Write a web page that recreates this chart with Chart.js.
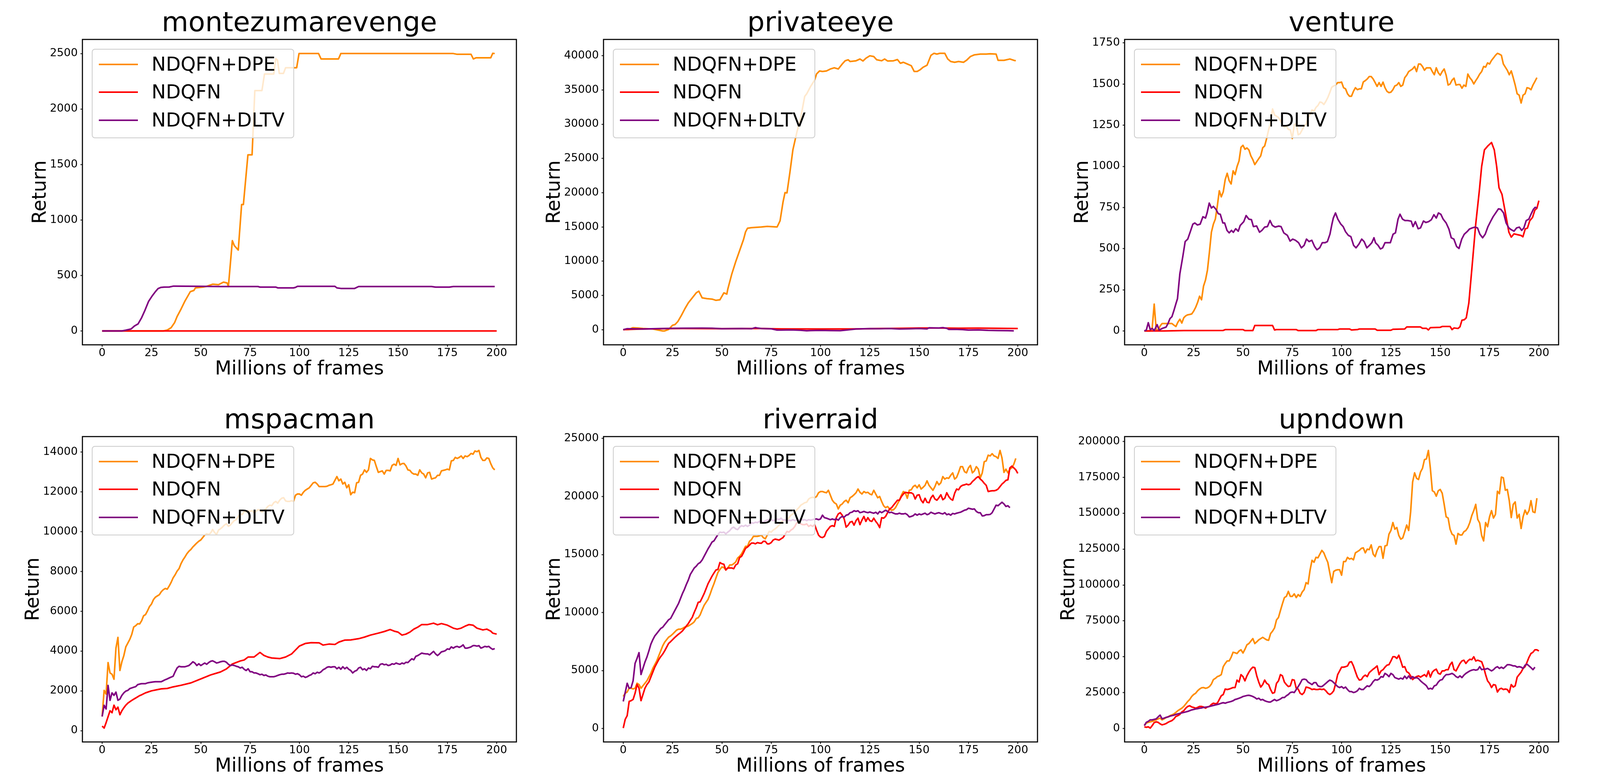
<!DOCTYPE html>
<html><head><meta charset="utf-8">
<script src="https://cdn.jsdelivr.net/npm/chart.js@4.4.1/dist/chart.umd.min.js"></script>
<style>
html,body{margin:0;padding:0;background:#fff;}
#fig{position:relative;width:4200px;height:2000px;background:#fff;overflow:hidden;font-family:'DejaVu Sans';}
#fig canvas{position:absolute;}
.legend{position:absolute;box-sizing:border-box;width:518px;height:229px;background:rgba(255,255,255,0.8);border:2px solid #cccccc;border-radius:8px;}
.legend .sw{position:absolute;left:16px;width:100px;height:4px;}
.legend .lb{position:absolute;left:151px;height:60px;line-height:60px;font-size:49px;color:#000;white-space:nowrap;font-family:'DejaVu Sans';}
</style></head>
<body><div id="fig"></div>
<script>
// ---------------- DATA ----------------
const gameTitles = ["montezumarevenge","privateeye","venture","mspacman","riverraid","upndown"];
const seriesLabels = ["NDQFN+DPE","NDQFN","NDQFN+DLTV"];
const xAxisTitle = "Millions of frames";
const yAxisTitle = "Return";
const xTickStep = 25;
const yTickSteps = [500, 5000, 250, 2000, 5000, 25000];

// [x, y] pairs (sparse) or plain y lists (one value per million frames, x = index)
const montezumaDPE = [[0,0],[31,0],[33,8],[35,30],[36.7,74],[38,130],[40,197],[42,270],[44.7,354],[46.5,365],[47.3,388],[51,395],[52.6,400],[56,421],[59,417],[61.5,440],[63.3,433],[64,400],[66,814],[67,769],[69,729],[70.7,1139],[71.6,1139],[73.9,1587],[76,1587],[77.4,2166],[81,2166],[82.3,2316],[87,2316],[88,2455],[88.9,2440],[89.8,2321],[91.9,2321],[93,2372],[98.6,2372],[99.8,2500],[109.7,2500],[111,2451],[119.8,2451],[121,2500],[178,2500],[180,2493],[187,2493],[188.2,2451],[189.6,2462],[197,2462],[198,2502],[199,2500]];
const montezumaNDQFN = [[0,0],[200,0]];
const montezumaDLTV = [[0,0],[10,0],[12,7],[14.7,18],[16.4,45],[18.2,63],[20,119],[21.7,186],[23.5,265],[25.3,314],[27,354],[28.3,381],[29.7,392],[31.4,395],[34,396],[36.2,404],[50,402],[60,400],[79,400],[80,395],[88,395],[89,388],[97,388],[98,392],[99,402],[118,402],[119,388],[121,383],[128,383],[130,400],[167,400],[169,395],[176,395],[178,400],[199,400]];

const privateeyeDPE = [[0,0],[3,50],[4.8,290],[7.4,250],[10,180],[15,100],[18,-70],[20,-180],[21,-180],[23,36],[25,650],[26.3,760],[27.7,1200],[29.5,2100],[31.3,3090],[33,3920],[35,4650],[37,5380],[38.3,5630],[40,4650],[42.4,4540],[45,4470],[47,4290],[49,4360],[51,5380],[52.5,5200],[53,5920],[55,8100],[57,9920],[59,11550],[61,13190],[62,14280],[63,14820],[65,14900],[70,15000],[73,15080],[78,15000],[79.5,15910],[81,18640],[82,20020],[83,19980],[84.5,23000],[86,26270],[88,28810],[90,31000],[92,34080],[93,34440],[95,35530],[97,36440],[98,37350],[99.5,37780],[101,37710],[103,37780],[105,38070],[107,38250],[109,38070],[111,38800],[112.5,39270],[114,39420],[115,39160],[118,39270],[120,39530],[121.5,39240],[123,39640],[125,40000],[127,39890],[128.5,39420],[131,39270],[132.5,39530],[134,39240],[137,39270],[139,39450],[140.5,38910],[142,39050],[144,38800],[146,38550],[147.5,37710],[149,37710],[150.5,37960],[152,38320],[154,38620],[156,40070],[157.5,40360],[159,40250],[160.5,40360],[163,40360],[164.5,39530],[166,39160],[168,39050],[170,39160],[172.5,39050],[174,39340],[176,39890],[178,40140],[181,40250],[184,40250],[186,40290],[189,40250],[190,39340],[193,39340],[196,39530],[198,39340],[199,39270]];
const privateeyeNDQFN = [[0,0],[5,60],[10,100],[20,150],[30,170],[50,150],[70,170],[80,120],[100,100],[120,120],[130,170],[140,200],[150,250],[160,250],[170,220],[180,230],[190,200],[200,170]];
const privateeyeDLTV = [[0,0],[2,150],[10,100],[20,180],[25,200],[30,210],[40,230],[45,220],[50,150],[60,170],[65,140],[67,300],[68,250],[70,180],[75,130],[78,-50],[80,-60],[85,-30],[90,-90],[93,-150],[95,-120],[100,-100],[105,-120],[110,-140],[113,-60],[118,100],[125,160],[130,150],[135,170],[140,100],[145,130],[150,180],[154,120],[155,280],[160,250],[162,300],[164,200],[165,50],[168,60],[172,20],[175,-60],[180,-30],[185,-100],[190,-120],[195,-140],[198,-170]];

const ventureDPE = [0,0,0,0,20,163,10,3,30,45,45,45,45,45,45,35,27,53,71,48,80,92,98,100,103,120,143,173,211,189,272,309,370,480,600,649,680,760,852,815,845,920,958,913,893,973,950,999,1033,1116,1128,1104,1112,1100,1064,1041,1011,1029,1047,1064,1113,1124,1169,1222,1267,1349,1312,1305,1297,1278,1252,1237,1245,1225,1222,1169,1252,1260,1192,1199,1222,1245,1255,1297,1315,1343,1335,1358,1370,1391,1388,1376,1395,1418,1448,1481,1489,1494,1509,1509,1512,1478,1471,1441,1426,1426,1456,1478,1466,1471,1471,1513,1521,1531,1546,1546,1531,1509,1486,1509,1486,1512,1478,1456,1448,1451,1466,1489,1494,1509,1486,1494,1539,1554,1576,1584,1592,1607,1576,1622,1622,1607,1584,1599,1599,1599,1576,1557,1599,1569,1554,1576,1592,1554,1494,1501,1524,1536,1494,1497,1497,1475,1494,1486,1561,1539,1524,1501,1521,1539,1561,1576,1607,1603,1629,1622,1644,1659,1675,1687,1682,1675,1622,1603,1584,1557,1580,1539,1494,1441,1433,1385,1433,1441,1478,1475,1466,1494,1516,1539];
const ventureNDQFN = [[0,0],[10,0],[20,2],[40,3],[41,8],[50,8],[51,2],[55,2],[56,33],[65,33],[66,6],[67,8],[77,8],[78,2],[87,2],[88,8],[98,8],[99,12],[104,12],[105,6],[108,8],[109,12],[117,12],[118,4],[125,4],[126,10],[132,12],[133,24],[140,24],[141,16],[143,16],[144,6],[145,20],[150,22],[151,27],[155,27],[156,8],[157,18],[159,15],[160,25],[161,65],[162.2,68],[163.2,80],[164.5,170],[166.2,400],[168,650],[169.8,850],[171,1000],[172.4,1100],[174.2,1125],[176,1145],[177.4,1100],[178.6,1000],[179.8,870],[181.3,830],[183,720],[184.8,600],[186,570],[187.4,590],[189.2,585],[191,580],[191.9,572],[193.1,620],[194.2,625],[195.4,670],[196.8,690],[198,735],[199,745],[200,792]];
const ventureDLTV = [[0,0],[1,5],[2,50],[3,8],[4,15],[5,2],[6.5,38],[7.5,5],[9,15],[11,23],[12,45],[13,75],[14,87],[15,124],[16,165],[16.8,196],[18,347],[19.5,452],[20.7,543],[22,558],[23.3,603],[24.6,649],[25.6,656],[26.9,644],[28.3,649],[29.7,694],[31,686],[31.8,717],[32.9,777],[34,747],[35,757],[36.3,739],[37.5,712],[38.5,709],[39.8,656],[40.7,656],[41.9,611],[43,596],[44.2,611],[45.1,599],[46.3,621],[47.6,606],[48.6,641],[50.4,664],[51.6,701],[53,679],[54.3,676],[55.3,634],[56.9,638],[58.4,600],[59.6,611],[61,631],[62.4,634],[63.7,671],[64.9,641],[66.3,631],[68.1,637],[69.3,634],[70.7,596],[72.5,581],[73.9,546],[75.2,558],[76.6,551],[78.2,536],[79.6,505],[81,520],[82.2,558],[83.5,543],[84.9,551],[86.3,513],[87.5,493],[88.9,505],[90.2,536],[91.6,536],[92.8,543],[94.1,588],[95.1,649],[95.8,686],[96.9,717],[98.1,679],[99.6,649],[100.8,634],[102,603],[103.4,581],[104.7,573],[106.1,520],[107.3,505],[108.8,528],[110.2,558],[111.4,543],[112.8,505],[114.1,520],[115.3,536],[116.4,566],[117.2,536],[118.5,520],[119.7,498],[120.8,505],[122,536],[123.4,536],[124.7,536],[126.1,588],[127.3,596],[128.6,679],[129.6,709],[130.9,679],[132.1,671],[133.5,671],[135.3,667],[136.2,634],[137.4,664],[138.8,621],[140,626],[141.5,668],[142.7,659],[144.1,664],[145.5,676],[146.8,706],[148,686],[149.1,717],[150.3,709],[151.5,679],[153,656],[154.4,619],[155.6,566],[156.9,558],[158.3,513],[159.5,501],[160.9,558],[162.2,588],[163.6,603],[164.8,619],[166.2,626],[167.6,631],[168.9,626],[170.1,588],[171.5,566],[172.8,588],[174.2,634],[175.6,667],[176.8,694],[178.1,717],[179.5,742],[180.7,739],[182.1,717],[183.4,656],[184.8,626],[186,615],[187.4,606],[188.7,626],[190.1,631],[191.3,611],[192.4,626],[193.6,671],[194.9,679],[195.9,706],[197.2,739],[198.1,751],[199,747]];

const mspacmanDPE = [712,2023,1836,3422,2898,2835,2585,4147,4684,3023,3460,3772,4209,4396,4584,4834,5208,5271,5371,5360,5520,5770,5833,6020,6233,6357,6582,6707,6770,6832,6982,7082,7144,7107,7269,7457,7681,7831,8018,8143,8393,8581,8731,8893,9018,9105,9230,9330,9430,9517,9580,9705,9830,9892,9855,9930,10104,9955,9855,10080,10142,10229,10329,10392,10267,10329,10454,10554,10604,10766,10891,10854,11016,10979,11053,11016,11053,10954,11016,11104,11079,10979,11079,11141,11266,11329,11303,11453,11516,11428,11578,11678,11703,11541,11516,11516,11553,11516,11828,11890,11890,11828,11978,12078,12140,12203,12328,12452,12478,12390,12265,12265,12265,12265,12278,12328,12353,12390,12577,12765,12552,12640,12390,12478,12203,12353,11853,11978,11953,12453,12478,12827,12890,13102,12977,13102,13677,13602,13577,13264,12977,13015,13052,12890,13077,13077,13052,13327,13389,13327,13677,13352,13414,13427,13302,13102,13077,12952,12890,12890,12827,13102,12952,12890,12702,12952,12977,12640,12677,12702,12827,12827,13052,13077,13102,13140,13102,13552,13577,13727,13677,13727,13802,13677,13802,13764,13827,13927,13889,14052,14014,14077,13727,13577,13577,13702,13677,13414,13202,13102];
const mspacmanNDQFN = [[0,230],[1,130],[2,400],[3,700],[4,1000],[5,900],[6,1280],[7,1050],[8,1180],[9,800],[10,1000],[11,1150],[12,1280],[13,1380],[14,1450],[15,1520],[16,1580],[17,1640],[18,1700],[19,1760],[20,1800],[22,1900],[25,2000],[28,2060],[30,2100],[33,2120],[36,2200],[40,2280],[45,2400],[50,2600],[55,2800],[60,2950],[63,3100],[66,3350],[70,3500],[72,3550],[74,3700],[77,3700],[80,3930],[82,3780],[84,3700],[86,3650],[90,3620],[93,3700],[96,3850],[98,4050],[100,4250],[103,4380],[106,4420],[110,4410],[112,4300],[115,4350],[118,4330],[120,4450],[123,4550],[126,4560],[130,4620],[133,4700],[136,4800],[138,4850],[140,4900],[143,4980],[146,5080],[148,5000],[150,4950],[152,4800],[154,4850],[156,4950],[158,5100],[160,5200],[162,5330],[165,5330],[168,5400],[170,5320],[172,5380],[175,5300],[178,5150],[180,5100],[182,5150],[184,5250],[186,5330],[188,5300],[190,5150],[193,5060],[195,5100],[197,5000],[198,4900],[200,4850]];
const mspacmanDLTV = [712,1274,1087,2273,1524,1898,1774,1936,1524,1586,1774,1898,1986,2023,2111,2148,2180,2211,2311,2340,2361,2361,2361,2400,2420,2436,2450,2461,2461,2461,2461,2510,2561,2600,2648,2690,2735,2960,3148,3235,3210,3210,3210,3240,3273,3360,3460,3397,3273,3360,3273,3335,3397,3335,3422,3485,3510,3460,3397,3422,3460,3485,3485,3435,3335,3273,3298,3273,3235,3210,3148,3185,3085,3023,3110,2960,2960,2898,2898,2860,2810,2835,2773,2798,2735,2710,2710,2710,2735,2773,2810,2835,2835,2860,2898,2885,2898,2885,2835,2860,2810,2710,2735,2673,2710,2773,2810,2898,2860,2935,2898,2960,3060,3110,3185,3210,3185,3210,3210,3110,3185,3085,3210,3110,3185,3085,3023,2898,2985,3023,3148,3185,3060,3110,3023,3148,3110,3235,3210,3210,3185,3335,3360,3310,3335,3273,3298,3360,3335,3397,3360,3335,3397,3360,3435,3422,3522,3610,3560,3735,3772,3834,3897,3872,3859,3859,3809,3897,3984,3859,3772,3859,3959,3984,4022,4109,4084,4209,4147,4209,4234,4184,4234,4309,4147,4147,4172,4209,4272,4272,4247,4272,4147,4184,4234,4209,4234,4147,4084,4122];

const riverraidDPE = [2768,3047,3155,3477,3477,3412,3477,3906,3798,3477,3691,3906,4120,4442,4764,5193,5515,5837,6266,6696,7125,7447,7661,7876,7983,8133,8305,8477,8563,8563,8627,8734,8777,8842,8949,9056,9206,9485,9550,9807,10236,10623,10880,11138,11567,12060,12490,12983,13455,13713,13927,13884,13670,13842,14099,14099,14207,14357,14700,14850,15065,15387,15709,15709,16138,16288,16567,16567,16567,16610,16674,16460,16352,16674,16996,16932,17104,17211,17361,17533,17747,17962,17962,17919,18177,18391,18498,18606,18863,19035,19250,19357,19464,19507,19786,19893,19936,19893,20001,20323,20430,20430,20365,20323,20537,20108,19679,19464,19357,18928,19250,19357,19571,19679,19464,19893,20001,20151,20323,20645,20365,20215,20430,20323,20365,20215,20151,20537,20215,19893,20001,19571,19207,19035,19142,18928,18820,18863,19035,19357,19679,20108,20430,20323,19850,20537,20580,20859,20966,20752,21009,20645,20795,20966,21352,20966,20752,20537,20859,21288,21009,21181,21717,21503,21610,21567,21825,22039,21503,21653,22082,22576,22576,22147,22039,22468,22683,22039,22211,22576,22361,21610,22039,23004,23069,23563,23498,23692,23498,23434,23284,23970,23327,22082,22361,22039,22361,22468,22790,23284];
const riverraidNDQFN = [43,794,1116,2339,2404,2511,3047,3798,3477,2404,2940,3477,3798,4013,4442,4871,5300,5623,5944,6202,6417,6696,7017,7339,7490,7661,7833,7983,8133,8262,8412,8627,8842,9056,9335,9592,10022,10408,10880,10923,11267,11631,12060,12490,12811,13133,13412,13670,13713,14314,14207,14164,13670,13842,13842,13842,13777,14099,14207,14743,14850,15172,15537,15644,15816,15988,15988,15923,16030,15988,15966,16138,16138,15923,15923,16030,16245,16331,16288,16245,16352,16460,16717,16996,16932,17104,17211,17425,17747,17790,17640,17575,17575,17640,17425,17532,17425,17575,17104,16674,16503,16460,16567,16996,17211,17425,17490,17425,18177,18498,18606,18391,18069,17361,17533,17790,17854,17533,17919,18134,17575,17962,18284,17854,18177,17919,17854,18134,17854,17640,17318,18177,18134,18284,18606,18928,19035,19250,19464,19679,19679,20001,20215,20365,20323,20323,20323,20215,19786,20108,20151,19679,19464,19850,19507,19464,19893,20108,19786,19679,19893,20151,19722,19850,20323,20001,19786,19679,20280,20645,20580,20859,20966,21009,21073,21009,21073,21288,21438,21610,21717,21503,21352,21138,20966,20430,20473,20494,20494,20537,20645,20859,21073,21224,21395,21438,22468,22619,22468,22297,21996];
const riverraidDLTV = [2339,3112,3906,3477,3541,4120,5623,6052,6545,4657,5193,5730,6159,6696,7275,7661,7983,8198,8412,8627,8734,8949,9163,9378,9485,9807,10129,10451,10773,11202,11631,11996,12425,12811,13284,13563,13842,13992,14207,14314,14528,14850,15172,15494,15773,16073,16181,16460,16717,16932,16889,16932,16782,16932,17061,17275,17361,17211,17147,17361,17490,17425,17532,17425,17532,17747,17704,17790,17747,17854,17854,17747,17919,17962,18005,18005,17919,17962,18069,18005,18134,17962,18005,17854,17962,17919,18005,17919,18005,17962,18069,17962,18005,17919,18005,17962,18005,18048,18069,18005,18069,18391,18177,18134,18069,18005,18069,18005,18069,17962,18177,18284,18220,18391,18434,18606,18648,18777,18713,18777,18606,18648,18713,18648,18606,18670,18606,18563,18648,18499,18713,18606,18713,18820,18713,18606,18648,18563,18499,18499,18563,18499,18499,18541,18434,18241,18284,18348,18499,18391,18499,18434,18499,18563,18434,18499,18648,18563,18499,18563,18606,18541,18499,18606,18434,18499,18391,18541,18499,18563,18606,18648,18734,18820,18863,18992,18949,18906,18928,18713,18606,18606,18327,18348,18434,18434,18456,18606,18928,19250,19207,19357,19507,19357,19142,19207,19035];

const upndownDPE = [2077,3808,4328,4674,5020,5539,6059,6751,7270,6059,6751,7616,8136,9001,9521,10213,11252,12463,13329,14194,15406,17137,18868,20253,22330,23715,24580,26311,27523,28388,28561,28042,28388,29254,30985,34101,34966,36178,36697,37563,43102,45352,47083,47083,49680,53142,52795,52276,54007,54872,52622,55219,58335,59200,60931,62662,59200,60412,61797,62662,63528,62662,61797,61451,66124,67855,70106,75645,77376,82223,86896,91224,92089,95551,92089,92089,93820,91224,93301,92089,95032,96763,101610,100745,110266,117189,115805,119267,118920,121516,124112,122381,118920,115805,108534,101610,109400,110266,110612,110612,106803,116324,116324,119267,118055,118574,117535,122381,123247,124112,125497,125843,122381,124978,124632,127921,121516,119785,124112,126709,126709,118574,127229,127575,135364,137961,143500,138826,140038,134499,131902,132768,137095,141769,137961,150943,171715,178121,174312,173447,178640,181236,187295,187814,193700,181236,165657,164791,161849,165657,166523,163926,156136,147481,146616,138826,135364,134499,128440,135883,134845,134845,137095,137961,140038,143500,148347,151808,156136,145750,143153,134499,130691,143500,140557,147481,151808,146616,149212,165311,163580,175177,174658,166004,166523,158732,146962,156136,157867,146616,149212,139345,147481,152155,149212,151808,158732,150943,150424,160463];
const upndownNDQFN = [1212,866,1212,346,2077,4154,4674,4328,3289,2597,2943,3462,4328,5020,5539,6751,8482,9001,9867,11598,12463,14194,15406,15925,15060,14714,14194,14714,15406,15406,15060,14194,15060,15406,16791,17656,17310,17656,20253,22849,23715,27523,27177,27523,28042,28561,28561,33755,32370,37563,36178,33235,36697,39294,41371,42756,42410,36697,32370,28908,30639,33755,31504,30639,27177,24580,25100,31504,33235,37563,36697,32370,30639,29254,29774,34101,33755,28042,27523,24580,23715,25100,28908,28561,28042,27177,27523,27177,27177,27523,27177,27523,26311,24580,23715,24580,26311,31504,37563,40160,42756,42756,43102,43622,46218,46564,43622,39640,35832,33755,34101,36178,37216,36178,38947,40160,41371,42410,43622,37563,40160,41025,42756,44141,44487,47083,50026,50026,48814,51065,47083,42756,43102,39640,38774,36697,34101,35486,36178,36697,35832,36697,37563,36178,40160,35832,39294,40679,41371,38428,37909,40160,40160,41025,41025,44487,46218,41025,40160,42756,45352,47083,47602,45352,47083,48294,47948,50026,47083,47602,47083,46564,42756,37563,33235,31504,28561,30639,30293,25446,27523,28042,27177,27523,27177,25100,30639,28908,29774,35832,37563,39294,41890,43102,46218,49680,52276,53142,54872,54872,54007];
const upndownDLTV = [2077,4328,5020,6059,6059,6405,6751,8136,9347,6751,7270,7790,8136,8655,9001,9347,9867,10213,10559,10905,11252,11598,11944,12463,12983,13329,13675,13848,14194,14367,14714,14887,15060,15406,15752,16098,16444,16791,17137,17656,18003,17656,18176,18522,18868,19387,20253,20599,21118,21638,22330,22676,23022,23195,22849,22330,21638,20599,21118,19907,20253,19387,18868,18522,18522,19387,20253,19387,19907,20599,21638,21638,22849,23715,25100,25446,25100,27177,29254,31504,34101,34447,34101,32370,31504,30639,32024,32024,29774,29254,29254,30293,31504,32716,33755,33235,32024,30639,29254,28561,29254,28042,28908,27177,25792,25792,25100,25446,26311,28042,27177,27177,28561,29774,29254,30639,32716,34101,33755,34447,36178,35832,38428,37563,36178,38428,37563,35486,34966,34447,35139,34447,36524,34793,36697,34793,36178,35139,35486,34793,33235,32024,30985,29774,27523,28042,27523,29774,30293,32370,33755,34101,36178,37563,37563,37909,38428,37563,36178,35486,36697,35486,37216,38428,39294,40160,40679,41025,40679,41025,43102,41025,41371,41371,41890,41025,40160,41025,42410,43102,41890,42756,41890,43102,44487,44487,44141,43622,43622,42756,43102,42756,41890,44141,44833,43622,42410,41025,42756];

const gameSeries = [
  [montezumaDPE, montezumaNDQFN, montezumaDLTV],
  [privateeyeDPE, privateeyeNDQFN, privateeyeDLTV],
  [ventureDPE, ventureNDQFN, ventureDLTV],
  [mspacmanDPE, mspacmanNDQFN, mspacmanDLTV],
  [riverraidDPE, riverraidNDQFN, riverraidDLTV],
  [upndownDPE, upndownNDQFN, upndownDLTV]
];

// ---------------- STYLE / LAYOUT ----------------
const FONT = "'DejaVu Sans'";
const seriesColors = ['#ff8c00', '#ff0000', '#800080'];
const panelLeft = [211, 1545, 2879];
const panelTop = [101, 1118];
const plotW = 1111, plotH = 782;
const yBox = 200, titleBox = 101, xBox = 110, rightPad = 10;

function toPoints(arr) {
  return arr.map((v, i) => Array.isArray(v) ? {x: v[0], y: v[1]} : {x: i, y: v});
}
function stepTicks(step) {
  return function(s) {
    const t = [];
    for (let v = Math.ceil(s.min / step) * step; v <= s.max + 1e-9; v += step) t.push({value: v});
    s.ticks = t;
  };
}

const framePlugin = {
  id: 'frame',
  afterDatasetsDraw(chart) {
    const {ctx, chartArea: a} = chart;
    ctx.save();
    ctx.strokeStyle = '#000';
    ctx.lineWidth = 2.8;
    ctx.strokeRect(a.left, a.top, a.right - a.left, a.bottom - a.top);
    ctx.restore();
  }
};

const fig = document.getElementById('fig');

gameTitles.forEach((title, gi) => {
  const col = gi % 3, row = Math.floor(gi / 3);
  const L = panelLeft[col], T = panelTop[row];
  const canvas = document.createElement('canvas');
  const cw = yBox + plotW + rightPad, ch = titleBox + plotH + xBox;
  canvas.width = cw; canvas.height = ch;
  canvas.style.left = (L - yBox) + 'px';
  canvas.style.top = (T - titleBox) + 'px';
  canvas.style.width = cw + 'px'; canvas.style.height = ch + 'px';
  fig.appendChild(canvas);

  const series = gameSeries[gi].map(toPoints);
  const allY = series.flat().map(p => p.y);
  const lo = Math.min(...allY), hi = Math.max(...allY);
  const yMin = lo - 0.05 * (hi - lo), yMax = hi + 0.05 * (hi - lo);
  const step = yTickSteps[gi];
  const topTick = Math.floor(yMax / step) * step;
  const digits = String(topTick).length;
  const gap = 90 + (digits - 4) * 17.5;

  const datasets = series.map((pts, k) => ({
    label: seriesLabels[k],
    data: pts,
    borderColor: seriesColors[k],
    backgroundColor: seriesColors[k],
    borderWidth: 4,
    pointRadius: 0,
    pointHoverRadius: 0,
    fill: false,
    tension: 0,
    borderJoinStyle: 'round',
    order: 3 - k
  }));

  new Chart(canvas, {
    type: 'line',
    data: {datasets},
    plugins: [framePlugin],
    options: {
      responsive: false,
      animation: false,
      devicePixelRatio: 1,
      layout: {padding: {left: 0, right: rightPad, top: 0, bottom: 0}},
      plugins: {
        legend: {display: false},
        tooltip: {enabled: false},
        title: {
          display: true, text: title, fullSize: false, color: '#000',
          font: {family: FONT, size: 70, weight: 'normal', lineHeight: 1},
          padding: {top: 27, bottom: 4}
        }
      },
      scales: {
        x: {
          type: 'linear', min: -10, max: 210,
          afterBuildTicks: stepTicks(xTickStep),
          afterFit(s) { s.height = xBox; },
          border: {display: false},
          grid: {drawOnChartArea: false, drawTicks: true, tickLength: 5, tickWidth: 2, tickColor: '#000'},
          ticks: {autoSkip: false, maxRotation: 0, minRotation: 0,
                  color: '#000', padding: 0, font: {family: FONT, size: 28, lineHeight: 1.2},
                  callback: v => String(v)},
          title: {display: true, text: xAxisTitle, color: '#000',
                  font: {family: FONT, size: 49, lineHeight: 1}, padding: {top: 0, bottom: 22.5}}
        },
        y: {
          type: 'linear', min: yMin, max: yMax,
          afterBuildTicks: stepTicks(step),
          afterFit(s) { s.width = yBox; },
          border: {display: false},
          grid: {drawOnChartArea: false, drawTicks: true, tickLength: 5, tickWidth: 2, tickColor: '#000'},
          ticks: {autoSkip: false,
                  color: '#000', padding: 7, font: {family: FONT, size: 28, lineHeight: 1.2},
                  callback: v => String(Math.round(v))},
          title: {display: true, text: yAxisTitle, color: '#000',
                  font: {family: FONT, size: 49, lineHeight: 1}, padding: {top: 158.5 - gap, bottom: 0}}
        }
      }
    }
  });

  // legend (matplotlib style box, drawn above the lines)
  const lg = document.createElement('div');
  lg.className = 'legend';
  lg.style.left = (L + 24) + 'px';
  lg.style.top = (T + 24) + 'px';
  const rowCenters = [37.5, 109, 180.5];
  datasets.forEach((ds, k) => {
    const sw = document.createElement('div');
    sw.className = 'sw';
    sw.style.top = (rowCenters[k] - 2) + 'px';
    sw.style.background = ds.borderColor;
    lg.appendChild(sw);
    const lb = document.createElement('div');
    lb.className = 'lb';
    lb.style.top = (rowCenters[k] - 30) + 'px';
    lb.textContent = ds.label;
    lg.appendChild(lb);
  });
  fig.appendChild(lg);
});
</script>
</body></html>
